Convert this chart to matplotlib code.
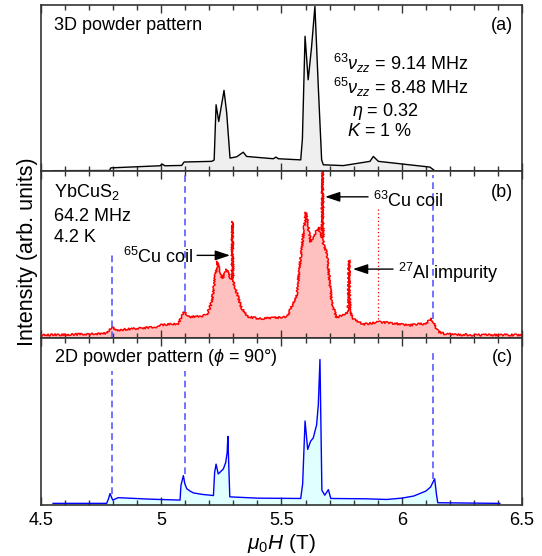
import numpy as np
import matplotlib
matplotlib.use('Agg')
import matplotlib.pyplot as plt
from matplotlib.ticker import MultipleLocator

plt.rcParams['font.family'] = ['Liberation Sans', 'DejaVu Sans']
plt.rcParams['mathtext.fontset'] = 'custom'
plt.rcParams['mathtext.rm'] = 'Liberation Sans'
plt.rcParams['mathtext.it'] = 'Liberation Sans:italic'

# (a) 3D powder pattern simulation, field (T) vs intensity (arb.)
field_3d = [4.55, 4.785, 4.79, 4.82, 4.995, 5.004, 5.015, 5.085, 5.095, 5.21, 5.22,
            5.228, 5.239, 5.261, 5.272, 5.286, 5.314, 5.341, 5.355, 5.466, 5.477,
            5.487, 5.58, 5.587, 5.598, 5.611, 5.625, 5.639, 5.653, 5.667, 5.674,
            5.757, 5.868, 5.882, 5.903, 6.117, 6.138, 6.408]
int_3d = [0.005, 0.006, 0.022, 0.024, 0.035, 0.045, 0.035, 0.037, 0.058, 0.062, 0.07,
          0.408, 0.306, 0.496, 0.36, 0.082, 0.09, 0.118, 0.092, 0.078, 0.088,
          0.078, 0.071, 0.2, 0.827, 0.561, 0.76, 1.01, 0.52, 0.071, 0.041,
          0.036, 0.062, 0.092, 0.062, 0.027, 0.004, 0.004]

# (b) measured YbCuS2 spectrum at 64.2 MHz, 4.2 K
field_exp = [4.5, 4.6, 4.7, 4.773, 4.794, 4.815, 4.9, 4.99, 5.0, 5.071, 5.095, 5.113,
             5.189, 5.21, 5.233, 5.254, 5.272, 5.286, 5.293, 5.296, 5.299, 5.303, 5.314,
             5.335, 5.363, 5.411, 5.522, 5.563, 5.584, 5.602, 5.621, 5.653, 5.663,
             5.668, 5.671, 5.674, 5.677, 5.688, 5.709, 5.729, 5.764, 5.777, 5.781,
             5.785, 5.799, 5.84, 5.91, 6.035, 6.10, 6.124, 6.152, 6.186, 6.3, 6.5]
int_exp = [0.02, 0.022, 0.025, 0.03, 0.071, 0.05, 0.06, 0.07, 0.08, 0.09, 0.162, 0.13,
           0.14, 0.22, 0.47, 0.365, 0.42, 0.37, 0.36, 0.714, 0.36, 0.32, 0.28,
           0.18, 0.13, 0.12, 0.13, 0.264, 0.55, 0.77, 0.59, 0.68, 0.64,
           0.62, 1.05, 0.58, 0.56, 0.53, 0.22, 0.126, 0.152, 0.16, 0.477,
           0.16, 0.12, 0.085, 0.10, 0.08, 0.09, 0.118, 0.04, 0.024, 0.02, 0.02]

# (c) 2D powder pattern simulation (phi = 90 deg)
field_2d = [4.55, 4.773, 4.781, 4.787, 4.798, 4.821, 4.95, 5.078, 5.082, 5.092, 5.098,
            5.106, 5.12, 5.134, 5.17, 5.217, 5.222, 5.228, 5.237, 5.258, 5.268, 5.274,
            5.277, 5.285, 5.4, 5.58, 5.588, 5.598, 5.609, 5.621, 5.632, 5.646, 5.653,
            5.66, 5.668, 5.68, 5.695, 5.705, 5.85, 5.937, 6.0, 6.05, 6.10, 6.12, 6.13,
            6.137, 6.145, 6.15, 6.408]
int_2d = [0.01, 0.01, 0.04, 0.07, 0.03, 0.045, 0.036, 0.03, 0.12, 0.18, 0.13,
          0.10, 0.085, 0.074, 0.065, 0.058, 0.2, 0.25, 0.19, 0.22, 0.26, 0.32,
          0.42, 0.05, 0.042, 0.04, 0.13, 0.514, 0.34, 0.39, 0.41, 0.49, 0.61,
          0.89, 0.09, 0.06, 0.094, 0.04, 0.038, 0.034, 0.042, 0.055, 0.085, 0.11, 0.14,
          0.16, 0.06, 0.014, 0.01]

# guide lines: (field, ymin, ymax) per panel
guides_b = [(4.794, 0.0, 0.53), (5.097, 0.16, 1.0), (6.129, 0.12, 1.0)]
guides_c = [(4.794, 0.07, 0.82), (5.097, 0.19, 0.82), (6.129, 0.16, 0.95)]
al_guide = (5.90, 0.12, 0.79)

fig, axes = plt.subplots(3, 1, sharex=True, figsize=(5.42, 5.56), dpi=100)
fig.subplots_adjust(left=0.0757, right=0.963, top=0.9915, bottom=0.0917, hspace=0)
ax_a, ax_b, ax_c = axes

ax_a.fill_between(field_3d, 0, int_3d, color='#efefef', lw=0)
ax_a.plot(field_3d, int_3d, color='black', lw=1.0)

ax_b.fill_between(field_exp, 0, int_exp, color='#ffc0c0', lw=0)
line, = ax_b.plot(field_exp, int_exp, color='red', lw=1.1)
line.set_sketch_params(scale=1.0, length=1.5, randomness=3)

ax_c.fill_between(field_2d, 0, int_2d, color='#e0ffff', lw=0)
ax_c.plot(field_2d, int_2d, color='blue', lw=1.0)

for x, y0, y1 in guides_b:
    ax_b.plot([x, x], [y0, y1], color='#5a5aff', lw=1.2, ls=(0, (4, 2.5)))
for x, y0, y1 in guides_c:
    ax_c.plot([x, x], [y0, y1], color='#5a5aff', lw=1.2, ls=(0, (4, 2.5)))
ax_b.plot([al_guide[0]] * 2, al_guide[1:], color='red', lw=0.9, ls=(0, (1, 2)))

for ax in axes:
    ax.set_xlim(4.5, 6.5)
    ax.set_ylim(0, 1.02)
    ax.xaxis.set_major_locator(MultipleLocator(0.5))
    ax.xaxis.set_minor_locator(MultipleLocator(0.1))
    ax.tick_params(which='both', direction='in', top=True, bottom=True,
                   left=False, labelleft=False, width=1, labelsize=13,
                   color='#333333')
    ax.tick_params(which='major', length=6, pad=5)
    ax.tick_params(which='minor', length=3.5)
    for s in ax.spines.values():
        s.set_linewidth(1.2)
        s.set_color('#333333')
ax_c.set_xticks([4.5, 5, 5.5, 6, 6.5])
ax_c.set_xticklabels(['4.5', '5', '5.5', '6', '6.5'])
ax_c.set_xlabel(r'$\mu_0H$ (T)', fontsize=15, labelpad=2)
fig.text(0.05, 0.547, 'Intensity (arb. units)', rotation=90, fontsize=15.5,
         ha='center', va='center')

fs = 13
ax_a.text(0.027, 0.878, '3D powder pattern', transform=ax_a.transAxes, fontsize=fs, va='center')
ax_a.text(0.981, 0.878, '(a)', transform=ax_a.transAxes, fontsize=fs, va='center', ha='right')
ax_a.text(0.607, 0.65, r'$^{63}\nu_{zz}$ = 9.14 MHz', transform=ax_a.transAxes, fontsize=fs, va='center')
ax_a.text(0.607, 0.505, r'$^{65}\nu_{zz}$ = 8.48 MHz', transform=ax_a.transAxes, fontsize=fs, va='center')
ax_a.text(0.646, 0.36, r'$\eta$ = 0.32', transform=ax_a.transAxes, fontsize=fs, va='center')
ax_a.text(0.636, 0.24, r'$K$ = 1 %', transform=ax_a.transAxes, fontsize=fs, va='center')

ax_b.text(0.027, 0.88, r'YbCuS$_2$', transform=ax_b.transAxes, fontsize=fs, va='center')
ax_b.text(0.027, 0.73, '64.2 MHz', transform=ax_b.transAxes, fontsize=fs, va='center')
ax_b.text(0.027, 0.607, '4.2 K', transform=ax_b.transAxes, fontsize=fs, va='center')
ax_b.text(0.981, 0.875, '(b)', transform=ax_b.transAxes, fontsize=fs, va='center', ha='right')

arrow = dict(arrowstyle='-|>,head_length=0.9,head_width=0.3', color='black', lw=1,
             shrinkA=0, shrinkB=0)
ax_b.annotate('', xy=(5.681, 0.865), xytext=(5.86, 0.865), arrowprops=arrow)
ax_b.text(5.88, 0.84, r'$^{63}$Cu coil', fontsize=fs, va='center')
ax_b.annotate('', xy=(5.286, 0.507), xytext=(5.149, 0.507), arrowprops=arrow)
ax_b.text(5.135, 0.50, r'$^{65}$Cu coil', fontsize=fs, va='center', ha='right')
ax_b.annotate('', xy=(5.797, 0.423), xytext=(5.964, 0.423), arrowprops=arrow)
ax_b.text(5.984, 0.40, r'$^{27}$Al impurity', fontsize=fs, va='center')

ax_c.text(0.027, 0.885, r'2D powder pattern ($\phi$ = 90°)', transform=ax_c.transAxes,
          fontsize=fs, va='center')
ax_c.text(0.981, 0.885, '(c)', transform=ax_c.transAxes, fontsize=fs, va='center', ha='right')

fig.savefig('out.png', dpi=100)
